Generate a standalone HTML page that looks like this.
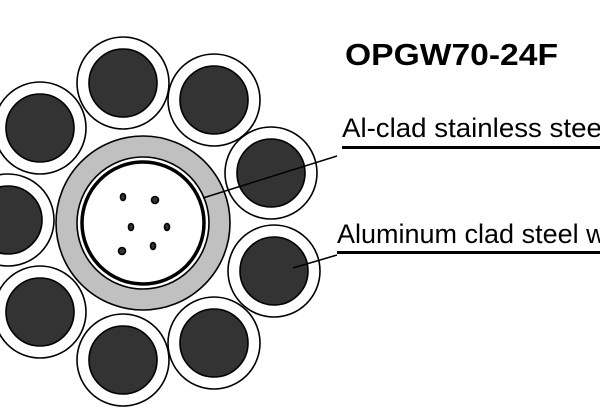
<!DOCTYPE html>
<html><head><style>
html,body{margin:0;padding:0;background:#fff;}
body{width:600px;height:416px;overflow:hidden;position:relative;}
svg{position:absolute;left:0;top:0;}
</style></head><body>
<svg width="600" height="416" viewBox="0 0 600 416" xmlns="http://www.w3.org/2000/svg">
<g stroke="#000" stroke-width="1.6">
<g fill="#fff">
<circle cx="123" cy="83" r="46"/>
<circle cx="214" cy="100" r="46"/>
<circle cx="271" cy="173" r="46"/>
<circle cx="274" cy="271" r="46"/>
<circle cx="214" cy="343" r="46"/>
<circle cx="123" cy="360" r="46"/>
<circle cx="40" cy="312" r="46"/>
<circle cx="8" cy="220" r="46"/>
<circle cx="40" cy="128" r="46"/>
</g>
<g fill="#333">
<circle cx="123" cy="83" r="34"/>
<circle cx="214" cy="100" r="34"/>
<circle cx="271" cy="173" r="34"/>
<circle cx="274" cy="271" r="34"/>
<circle cx="214" cy="343" r="34"/>
<circle cx="123" cy="360" r="34"/>
<circle cx="40" cy="312" r="34"/>
<circle cx="8" cy="220" r="34"/>
<circle cx="40" cy="128" r="34"/>
</g>
<circle cx="143" cy="223" r="87" fill="#c0c0c0"/>
<circle cx="143" cy="223" r="66" fill="#fff"/>
<circle cx="143" cy="223" r="61" fill="none" stroke-width="3.5"/>
<g fill="#333">
<ellipse cx="123" cy="197" rx="2.5" ry="3.5"/>
<ellipse cx="155" cy="200" rx="3.5" ry="3.5"/>
<ellipse cx="131" cy="227" rx="2.5" ry="3.5"/>
<ellipse cx="167" cy="227" rx="2.5" ry="3.5"/>
<ellipse cx="122" cy="251" rx="3.5" ry="3.5"/>
<ellipse cx="153" cy="246" rx="2.5" ry="3.5"/>
</g>
<line x1="203" y1="198" x2="337" y2="156" stroke-width="1.5"/>
<line x1="293" y1="268" x2="337" y2="255" stroke-width="1.5"/>
</g>
<rect x="342" y="146" width="258" height="3" fill="#000"/>
<rect x="337" y="251" width="263" height="3" fill="#000"/>
<g font-family="Liberation Sans, Arial, sans-serif" fill="#000">
<text x="345" y="65" font-size="31" font-weight="bold" textLength="213" lengthAdjust="spacingAndGlyphs">OPGW70-24F</text>
<text x="342" y="137" font-size="27" textLength="266" lengthAdjust="spacingAndGlyphs">Al-clad stainless steel</text>
<text x="337" y="243" font-size="27">Aluminum clad steel wire</text>
</g>
</svg>
</body></html>
